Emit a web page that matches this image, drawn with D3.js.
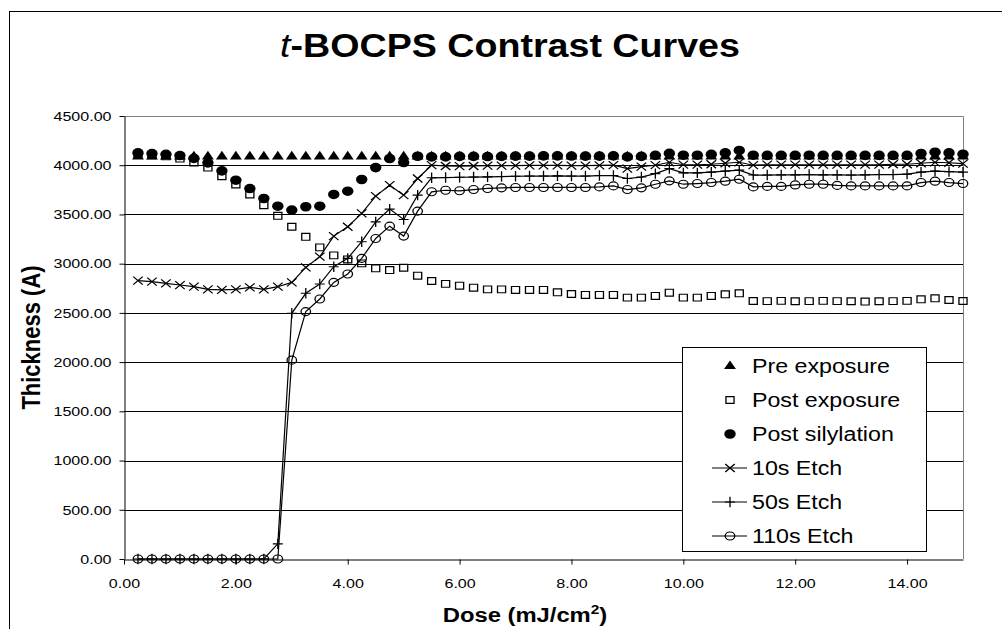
<!DOCTYPE html>
<html>
<head>
<meta charset="utf-8">
<script src="https://cdn.jsdelivr.net/npm/d3@7/dist/d3.min.js"></script>
<style>
  html, body { margin: 0; padding: 0; background: #fff; }
  svg { display: block; font-family: "Liberation Sans", Arial, sans-serif; }
</style>
</head>
<body>
<div id="chart"></div>
<script>
// t-BOCPS contrast curves: thickness vs. exposure dose

var dose = d3.range(1, 61).map(function (i) { return i * 0.25; });

var preExposure = [
    4090, 4090, 4090, 4090, 4090, 4090, 4090, 4090, 4090, 4090,
    4090, 4090, 4090, 4090, 4090, 4090, 4090, 4090, 4090, 4090,
    4090, 4090, 4090, 4090, 4090, 4090, 4090, 4090, 4090, 4090,
    4090, 4090, 4090, 4090, 4090, 4090, 4090, 4090, 4090, 4090,
    4090, 4090, 4090, 4090, 4090, 4090, 4090, 4090, 4090, 4090,
    4090, 4090, 4090, 4090, 4090, 4090, 4090, 4090, 4090, 4090
];

var postExposure = [
    4110, 4100, 4090, 4068, 4027, 3976, 3888, 3804, 3703, 3594,
    3486, 3375, 3273, 3165, 3084, 3043, 3003, 2952, 2935, 2959,
    2878, 2824, 2795, 2776, 2756, 2739, 2739, 2733, 2733, 2733,
    2709, 2692, 2682, 2682, 2682, 2655, 2655, 2672, 2705, 2655,
    2655, 2672, 2689, 2699, 2621, 2620, 2622, 2618, 2620, 2622,
    2620, 2618, 2615, 2618, 2620, 2622, 2638, 2648, 2631, 2621
];

var postSilylation = [
    4125, 4118, 4111, 4098, 4070, 4024, 3943, 3848, 3763, 3662,
    3584, 3544, 3578, 3584, 3703, 3736, 3855, 3976, 4068, 4027,
    4091, 4085, 4085, 4090, 4090, 4088, 4090, 4092, 4092, 4095,
    4095, 4093, 4092, 4092, 4095, 4085, 4090, 4100, 4120, 4102,
    4102, 4110, 4125, 4150, 4102, 4100, 4100, 4100, 4102, 4100,
    4100, 4100, 4100, 4100, 4100, 4100, 4119, 4132, 4125, 4112
];

var etch10 = [
    2827, 2817, 2800, 2783, 2766, 2739, 2733, 2739, 2760, 2739,
    2766, 2810, 2962, 3071, 3280, 3375, 3510, 3686, 3797, 3696,
    3865, 4000, 3992, 3990, 3992, 3995, 3995, 3995, 3998, 3998,
    3998, 3995, 3995, 3998, 4000, 3966, 3985, 4000, 4030, 4005,
    4005, 4010, 4020, 4030, 4000, 4005, 4005, 4005, 4005, 4005,
    4005, 4005, 4005, 4005, 4010, 4010, 4020, 4030, 4025, 4017
];

var etch50 = [
    0, 0, 0, 0, 0, 0, 0, 0, 0, 0,
    154, 2496, 2699, 2793, 2969, 3054, 3223, 3425, 3554, 3449,
    3696, 3872, 3875, 3878, 3880, 3882, 3885, 3888, 3890, 3890,
    3892, 3890, 3890, 3895, 3895, 3865, 3880, 3915, 3966, 3922,
    3922, 3930, 3940, 3950, 3900, 3900, 3902, 3902, 3905, 3902,
    3902, 3900, 3902, 3905, 3905, 3910, 3930, 3940, 3935, 3930
];

var etch110 = [
    0, 0, 0, 0, 0, 0, 0, 0, 0, 0,
    0, 2020, 2513, 2641, 2810, 2895, 3054, 3256, 3381, 3280,
    3534, 3730, 3746, 3740, 3753, 3764, 3770, 3774, 3774, 3774,
    3774, 3774, 3774, 3780, 3790, 3753, 3770, 3807, 3841, 3807,
    3814, 3824, 3838, 3858, 3780, 3785, 3785, 3800, 3807, 3807,
    3795, 3790, 3790, 3790, 3790, 3790, 3824, 3838, 3824, 3814
];

var seriesNames = ["Pre exposure", "Post exposure", "Post silylation", "10s Etch", "50s Etch", "110s Etch"];
var xTicks = [0, 2, 4, 6, 8, 10, 12, 14];
var yTicks = [0, 500, 1000, 1500, 2000, 2500, 3000, 3500, 4000, 4500];

var W = 1002, H = 629;
var SX = 1.19; // the original picture is stretched sideways
var plot = { left: 124, right: 963, top: 116, bottom: 559 };

var svg = d3.select("#chart").append("svg")
    .attr("width", W)
    .attr("height", H);

svg.append("rect").attr("width", W).attr("height", H).attr("fill", "#fff");

// chart area border
svg.append("rect")
    .attr("x", 9.5).attr("y", 11.5)
    .attr("width", W + 20).attr("height", H + 20)
    .attr("fill", "none").attr("stroke", "#000").attr("stroke-width", 1);

var x = d3.scaleLinear().domain([0, 15]).range([plot.left, plot.right]);
var y = d3.scaleLinear().domain([0, 4500]).range([plot.bottom, plot.top]);

function stretch(px, py, sx) {
    return "translate(" + px + "," + py + ") scale(" + (sx || SX) + ",1)";
}

// gridlines
svg.append("g").selectAll("line")
    .data(yTicks.filter(function (d) { return d > 0 && d < 4500; }))
    .enter().append("line")
    .attr("x1", plot.left).attr("x2", plot.right)
    .attr("y1", function (d) { return Math.round(y(d)) + 0.5; })
    .attr("y2", function (d) { return Math.round(y(d)) + 0.5; })
    .attr("stroke", "#000").attr("stroke-width", 1);

// top & right plot border (grey)
svg.append("path")
    .attr("d", "M" + plot.left + "," + (plot.top + 0.5) + "H" + (plot.right + 0.5) + "V" + plot.bottom)
    .attr("fill", "none").attr("stroke", "#808080").attr("stroke-width", 1);

// axes
var xAxis = svg.append("g")
    .attr("transform", "translate(0," + (plot.bottom + 0.5) + ")")
    .call(d3.axisBottom(x).tickValues(xTicks).tickSize(5).tickSizeOuter(0).tickFormat(d3.format(".2f")));

var yAxis = svg.append("g")
    .attr("transform", "translate(" + (plot.left + 0.5) + ",0)")
    .call(d3.axisLeft(y).tickValues(yTicks).tickSize(5).tickSizeOuter(0).tickFormat(d3.format(".2f")));

[xAxis, yAxis].forEach(function (ax) {
    ax.select(".domain").attr("stroke", "#000");
    ax.selectAll(".tick line").attr("stroke", "#000");
    ax.selectAll(".tick text")
        .attr("fill", "#000")
        .attr("font-size", "13.5px")
        .attr("font-family", "'Liberation Sans', Arial, sans-serif");
});

xAxis.selectAll(".tick text")
    .attr("y", 0).attr("dy", null)
    .attr("transform", "translate(0,28.5) scale(" + SX + ",1)");

yAxis.selectAll(".tick text")
    .attr("x", 0)
    .attr("transform", "translate(-13,0) scale(" + SX + ",1)");

// titles
var title = svg.append("text")
    .attr("transform", stretch(510, 57, 1.14))
    .attr("text-anchor", "middle")
    .attr("font-size", "33px");
title.append("tspan").attr("font-style", "italic").text("t");
title.append("tspan").attr("font-weight", "bold").text("-BOCPS Contrast Curves");

var xTitle = svg.append("text")
    .attr("transform", stretch(525, 622))
    .attr("text-anchor", "middle")
    .attr("font-size", "20px")
    .attr("font-weight", "bold");
xTitle.append("tspan").text("Dose (mJ/cm");
xTitle.append("tspan").attr("font-size", "13px").attr("dy", "-8").text("2");
xTitle.append("tspan").attr("dy", "8").text(")");

svg.append("text")
    .attr("transform", "translate(40," + ((plot.top + plot.bottom) / 2) + ") rotate(-90) scale(1," + SX + ")")
    .attr("text-anchor", "middle")
    .attr("font-size", "22px")
    .attr("font-weight", "bold")
    .text("Thickness (A)");

// marker shapes (drawn in unstretched units)
var markers = {
    triangle: { d: "M0,-5.6L5,3.1L-5,3.1Z", fill: "#000", stroke: "none" },
    square: { d: "M-3.4,-3.4H3.4V3.4H-3.4Z", fill: "none", stroke: "#000" },
    dot: { d: d3.symbol(d3.symbolCircle, Math.PI * 4.8 * 4.8)(), fill: "#000", stroke: "none" },
    times: { d: "M-4,-4L4,4M-4,4L4,-4", fill: "none", stroke: "#000" },
    plus: { d: "M-4.2,0H4.2M0,-5.2V5.2", fill: "none", stroke: "#000" },
    ring: { d: d3.symbol(d3.symbolCircle, Math.PI * 4 * 4)(), fill: "none", stroke: "#000" }
};

var series = [
    { name: seriesNames[0], values: preExposure, marker: "triangle", line: false },
    { name: seriesNames[1], values: postExposure, marker: "square", line: false },
    { name: seriesNames[2], values: postSilylation, marker: "dot", line: false },
    { name: seriesNames[3], values: etch10, marker: "times", line: true },
    { name: seriesNames[4], values: etch50, marker: "plus", line: true },
    { name: seriesNames[5], values: etch110, marker: "ring", line: true }
];

var lineGen = d3.line()
    .x(function (d) { return x(d[0]); })
    .y(function (d) { return y(d[1]); });

var plotG = svg.append("g");

series.forEach(function (s) {
    var pts = dose.map(function (dv, i) { return [dv, s.values[i]]; });
    var g = plotG.append("g");
    if (s.line) {
        g.append("path")
            .attr("d", lineGen(pts))
            .attr("fill", "none")
            .attr("stroke", "#000")
            .attr("stroke-width", 1.2);
    }
    var m = markers[s.marker];
    g.selectAll("path.mk")
        .data(pts)
        .enter().append("path")
        .attr("class", "mk")
        .attr("d", m.d)
        .attr("transform", function (d) { return stretch(x(d[0]), y(d[1])); })
        .attr("fill", m.fill)
        .attr("stroke", m.stroke)
        .attr("stroke-width", 1.1);
});

// legend
var legend = svg.append("g");
legend.append("rect")
    .attr("x", 682.5).attr("y", 347.5)
    .attr("width", 244).attr("height", 204)
    .attr("fill", "#fff").attr("stroke", "#000").attr("stroke-width", 1);

var rowY = d3.scalePoint().domain(seriesNames).range([366, 536]);

series.forEach(function (s) {
    var cy = rowY(s.name);
    var m = markers[s.marker];
    if (s.line) {
        legend.append("line")
            .attr("x1", 712).attr("x2", 747)
            .attr("y1", cy).attr("y2", cy)
            .attr("stroke", "#000").attr("stroke-width", 1.2);
    }
    legend.append("path")
        .attr("d", m.d)
        .attr("transform", stretch(730, cy))
        .attr("fill", m.fill)
        .attr("stroke", m.stroke)
        .attr("stroke-width", 1.1);
    legend.append("text")
        .attr("transform", stretch(752, cy + 7))
        .attr("font-size", "19.5px")
        .text(s.name);
});
</script>
</body>
</html>
